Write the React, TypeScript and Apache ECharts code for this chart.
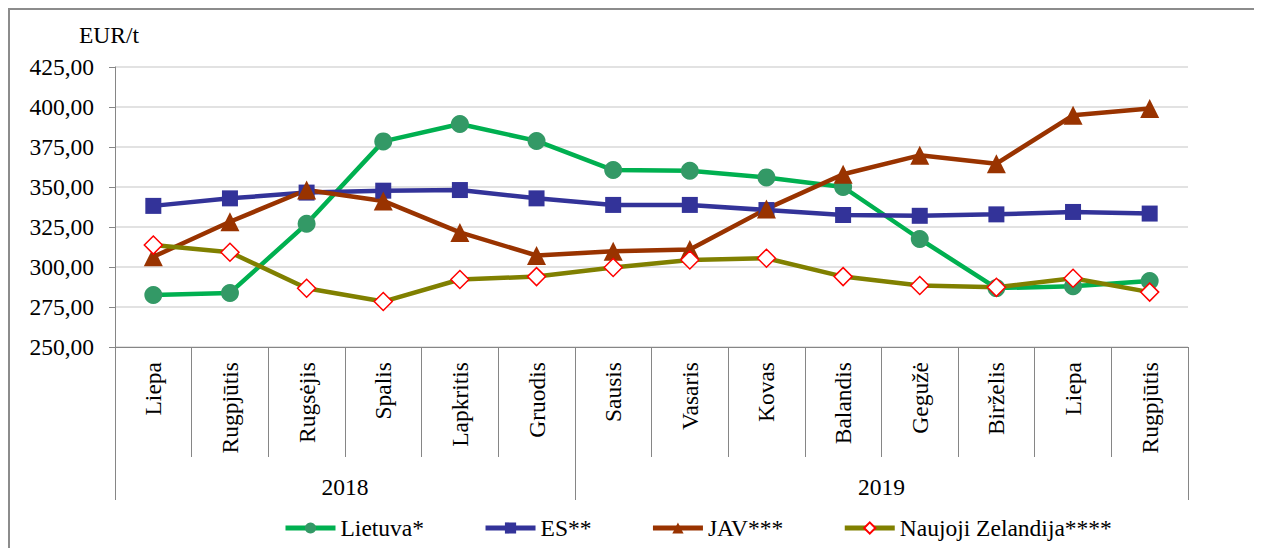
import React, { useEffect, useRef } from "react";
import * as echarts from "echarts";

const months = [
  "Liepa", "Rugpjūtis", "Rugsėjis", "Spalis", "Lapkritis", "Gruodis",
  "Sausis", "Vasaris", "Kovas", "Balandis", "Gegužė", "Birželis", "Liepa", "Rugpjūtis",
];
const years = ["2018", "2019"];
const monthsPerYear = [6, 8];

const lietuva = [282.5, 283.8, 327.0, 378.5, 389.4, 378.8, 360.6, 360.2, 356.0, 350.0, 317.5, 286.8, 288.0, 291.2];
const es = [338.2, 342.9, 346.5, 347.7, 348.1, 342.9, 338.8, 338.8, 335.6, 332.5, 332.0, 332.9, 334.4, 333.4];
const jav = [306.4, 328.3, 348.1, 341.3, 321.6, 307.2, 309.8, 311.0, 336.3, 358.0, 369.8, 364.6, 394.8, 399.0];
const nz = [313.7, 309.2, 286.7, 278.4, 292.2, 294.0, 299.7, 304.4, 305.5, 294.0, 288.4, 287.3, 293.0, 284.3];

const yTicks = { min: 250, max: 425, interval: 25 };

const FONT = "Liberation Serif";
const FS = 23.5;
const AXIS_GREY = "#868686";

export default function App() {
  const ref = useRef<HTMLDivElement>(null);

  useEffect(() => {
    document.documentElement.style.overflow = "hidden";
    document.body.style.overflow = "hidden";
    if (!ref.current) return;
    const chart = echarts.init(ref.current, undefined, { renderer: "svg" });

    const yearAxisData: string[] = new Array(months.length + 1).fill("");
    const boundaries: number[] = [0];
    let acc = 0;
    monthsPerYear.forEach((n, i) => {
      const mid = acc + n / 2;
      yearAxisData[Math.round(mid)] = years[i];
      acc += n;
      boundaries.push(acc);
    });

    const fmt = (v: number) => v.toFixed(2).replace(".", ",");

    const lineSeries = (
      name: string,
      data: number[],
      lineColor: string,
      symbol: string,
      symbolSize: number,
      itemStyle: any
    ) => ({
      name,
      type: "line",
      data,
      xAxisIndex: 0,
      yAxisIndex: 0,
      symbol,
      symbolSize,
      showAllSymbol: true,
      lineStyle: { color: lineColor, width: 4.5 },
      itemStyle,
      emphasis: { disabled: true },
    });

    chart.setOption({
      animation: false,
      textStyle: { fontFamily: FONT },
      grid: { left: 105, top: 57, width: 1073, height: 280 },
      legend: {
        left: 268,
        top: 501,
        itemWidth: 50,
        itemHeight: 14,
        itemGap: 59,
        lineStyle: { width: 5 },
        textStyle: { fontFamily: FONT, fontSize: FS, color: "#000" },
        data: ["Lietuva*", "ES**", "JAV***", "Naujoji Zelandija****"],
      },
      xAxis: [
        {
          type: "category",
          data: months,
          position: "bottom",
          boundaryGap: true,
          axisLine: { show: true, onZero: false, lineStyle: { color: AXIS_GREY, width: 1 } },
          axisTick: { show: true, interval: 0, length: 110, lineStyle: { color: AXIS_GREY, width: 1 } },
          axisLabel: {
            interval: 0,
            rotate: 90,
            margin: 15,
            fontFamily: FONT,
            fontSize: FS,
            color: "#000",
          },
          splitLine: { show: false },
        },
        {
          type: "category",
          data: yearAxisData,
          position: "bottom",
          boundaryGap: false,
          axisLine: { show: false, onZero: false },
          axisTick: {
            show: true,
            interval: (i: number) => boundaries.includes(i),
            length: 153,
            lineStyle: { color: AXIS_GREY, width: 1 },
          },
          axisLabel: {
            interval: 0,
            margin: 128,
            fontFamily: FONT,
            fontSize: FS,
            color: "#000",
          },
          splitLine: { show: false },
        },
      ],
      yAxis: {
        type: "value",
        min: yTicks.min,
        max: yTicks.max,
        interval: yTicks.interval,
        name: "EUR/t",
        nameLocation: "end",
        nameGap: 20,
        nameTextStyle: { fontFamily: FONT, fontSize: FS, color: "#000", padding: [0, 12, 0, 0] },
        axisLine: { show: true, lineStyle: { color: AXIS_GREY, width: 1 } },
        axisTick: { show: true, length: 6, lineStyle: { color: AXIS_GREY } },
        axisLabel: {
          margin: 21,
          fontFamily: FONT,
          fontSize: FS,
          color: "#000",
          formatter: fmt,
        },
        splitLine: { show: true, lineStyle: { color: "#d9d9d9", width: 1.5 } },
      },
      series: [
        lineSeries("Lietuva*", lietuva, "#00B050", "circle", 18, { color: "#339966" }),
        lineSeries("ES**", es, "#333399", "rect", 16, { color: "#333399" }),
        lineSeries("JAV***", jav, "#993300", "triangle", 19, { color: "#993300" }),
        lineSeries("Naujoji Zelandija****", nz, "#808000", "diamond", 18, {
          color: "#ffffff",
          borderColor: "#ff0000",
          borderWidth: 1.5,
        }),
      ],
    });

    return () => chart.dispose();
  }, []);

  return (
    <div
      style={{
        width: 1252,
        height: 560,
        border: "2px solid #8c8c8c",
        boxSizing: "border-box",
        background: "#fff",
      }}
    >
      <div ref={ref} style={{ width: 1248, height: 556 }} />
    </div>
  );
}
